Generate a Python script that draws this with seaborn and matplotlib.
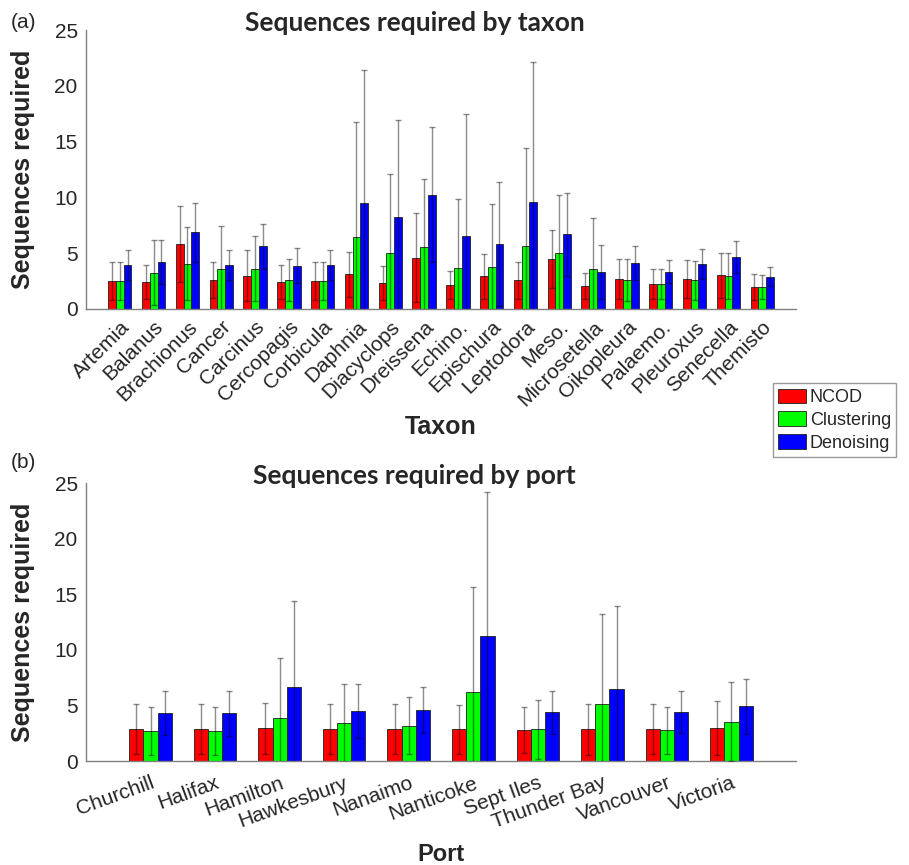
import matplotlib
matplotlib.use("Agg")
import matplotlib.pyplot as plt
import seaborn as sns
import pandas as pd

# === datos ===
methods = ['NCOD', 'Clustering', 'Denoising']
colors = ['#ff0000', '#00ff00', '#0000ff']

taxa = ['Artemia', 'Balanus', 'Brachionus', 'Cancer', 'Carcinus', 'Cercopagis',
        'Corbicula', 'Daphnia', 'Diacyclops', 'Dreissena', 'Echino.', 'Epischura',
        'Leptodora', 'Meso.', 'Microsetella', 'Oikopleura', 'Palaemo.', 'Pleuroxus',
        'Senecella', 'Themisto']
taxon_ncod = [2.50, 2.42, 5.82, 2.60, 2.99, 2.39, 2.50, 3.10, 2.33, 4.60,
              2.15, 2.93, 2.57, 4.48, 2.06, 2.69, 2.21, 2.69, 3.02, 1.97]
taxon_clus = [2.50, 3.26, 4.06, 3.55, 3.61, 2.60, 2.50, 6.45, 4.99, 5.53,
              3.67, 3.76, 5.65, 4.99, 3.55, 2.60, 2.21, 2.57, 2.93, 1.97]
taxon_deno = [3.94, 4.21, 6.87, 3.94, 5.62, 3.88, 3.94, 9.47, 8.27, 10.24,
              6.51, 5.82, 9.62, 6.69, 3.29, 4.12, 3.35, 4.03, 4.66, 2.90]
taxon_ncod_sd = [1.74, 1.49, 3.44, 1.64, 2.30, 1.52, 1.74, 2.04, 1.52, 4.00,
                 1.28, 2.00, 1.67, 2.60, 1.14, 1.82, 1.34, 1.67, 2.00, 1.13]
taxon_clus_sd = [1.68, 2.89, 3.26, 3.92, 2.90, 1.88, 1.74, 10.28, 7.14, 6.12,
                 6.16, 5.68, 8.78, 5.22, 4.57, 1.85, 1.34, 1.76, 2.06, 1.05]
taxon_deno_sd = [1.32, 1.94, 2.66, 1.32, 2.03, 1.56, 1.35, 11.95, 8.63, 6.04,
                 10.99, 5.56, 12.48, 3.70, 2.44, 1.53, 1.04, 1.35, 1.40, 0.83]

ports = ['Churchill', 'Halifax', 'Hamilton', 'Hawkesbury', 'Nanaimo', 'Nanticoke',
         'Sept Iles', 'Thunder Bay', 'Vancouver', 'Victoria']
port_ncod = [2.87, 2.87, 2.93, 2.87, 2.84, 2.84, 2.78, 2.84, 2.87, 2.96]
port_clus = [2.69, 2.69, 3.86, 3.41, 3.17, 6.23, 2.84, 5.15, 2.75, 3.53]
port_deno = [4.28, 4.28, 6.62, 4.49, 4.58, 11.23, 4.37, 6.47, 4.37, 4.91]
port_ncod_sd = [2.22, 2.22, 2.31, 2.22, 2.25, 2.22, 2.07, 2.28, 2.28, 2.43]
port_clus_sd = [2.16, 2.16, 5.42, 3.48, 2.58, 9.40, 2.64, 8.11, 2.10, 3.54]
port_deno_sd = [1.98, 2.04, 7.81, 2.46, 2.10, 12.99, 1.95, 7.48, 1.89, 2.49]


def to_long(cats, means, sds):
    rows = []
    for m, vals, errs in zip(methods, means, sds):
        for c, v, e in zip(cats, vals, errs):
            rows.append({'cat': c, 'method': m, 'mean': v, 'sd': e})
    return pd.DataFrame(rows)


df_taxon = to_long(taxa, [taxon_ncod, taxon_clus, taxon_deno],
                   [taxon_ncod_sd, taxon_clus_sd, taxon_deno_sd])
df_port = to_long(ports, [port_ncod, port_clus, port_deno],
                  [port_ncod_sd, port_clus_sd, port_deno_sd])

sns.set_style('white')
plt.rcParams['font.family'] = ['Liberation Sans', 'DejaVu Sans']

fig = plt.figure(figsize=(9.09, 8.65), dpi=100)
ax1 = fig.add_axes([0.0946, 0.6428, 0.7811, 0.3225])
ax2 = fig.add_axes([0.0946, 0.1202, 0.7811, 0.3214])


def panel(ax, df, cats, width, rot, xpad, title, xlabel, xlab_size, xlab_y):
    sns.barplot(data=df, x='cat', y='mean', hue='method', hue_order=methods,
                palette=colors, saturation=1, width=width, edgecolor='#202020',
                linewidth=0.6, errorbar=None, ax=ax)
    # barras de error (media ± sd)
    for cont, m in zip(ax.containers, methods):
        sd = df[df['method'] == m]['sd'].values
        xs = [b.get_x() + b.get_width() / 2 for b in cont]
        hs = [b.get_height() for b in cont]
        ax.errorbar(xs, hs, yerr=sd, fmt='none', ecolor='black', alpha=0.45,
                    elinewidth=1.0, capsize=2.5, capthick=1.0, zorder=5)
    ax.set_xlim(-1, len(cats))
    ax.set_ylim(0, 25)
    ax.set_yticks([0, 5, 10, 15, 20, 25])
    ax.tick_params(axis='y', direction='in', length=6, color='#808080',
                   labelsize=15, labelcolor='#262626', pad=6)
    ax.tick_params(axis='x', length=0, labelsize=15, labelcolor='#262626', pad=xpad)
    plt.setp(ax.get_xticklabels(), rotation=rot, ha='right', rotation_mode='anchor')
    for s in ['top', 'right']:
        ax.spines[s].set_visible(False)
    for s in ['left', 'bottom']:
        ax.spines[s].set_color('#808080')
        ax.spines[s].set_linewidth(1.0)
    ax.set_ylabel('Sequences required', fontsize=18, fontweight='bold', color='#262626')
    ax.yaxis.set_label_coords(-0.072, 0.5)
    ax.set_xlabel(xlabel, fontsize=xlab_size, fontweight='bold', color='#262626')
    ax.xaxis.set_label_coords(0.5, xlab_y)
    ax.set_title(title, fontsize=19, fontweight='bold', family='Lato', x=0.463, pad=-1)
    ax.legend_.remove()


panel(ax1, df_taxon, taxa, 0.69, 45, 6, 'Sequences required by taxon', 'Taxon', 18, -0.38)
panel(ax2, df_port, ports, 0.66, 20, 9, 'Sequences required by port', 'Port', 17, -0.295)

handles, labels = ax1.get_legend_handles_labels()
fig.legend(handles[:3], labels[:3], loc='upper left', bbox_to_anchor=(0.850, 0.557),
           fontsize=13, frameon=True, fancybox=False, edgecolor='#808080',
           handlelength=1.55, handleheight=0.85, handletextpad=0.2,
           labelspacing=0.3, borderpad=0.3, borderaxespad=0)

fig.text(0.012, 1 - 22 / 865, '(a)', fontsize=15, va='center', color='#262626')
fig.text(0.012, 1 - 463 / 865, '(b)', fontsize=15, va='center', color='#262626')

fig.savefig('out.png', dpi=100)
